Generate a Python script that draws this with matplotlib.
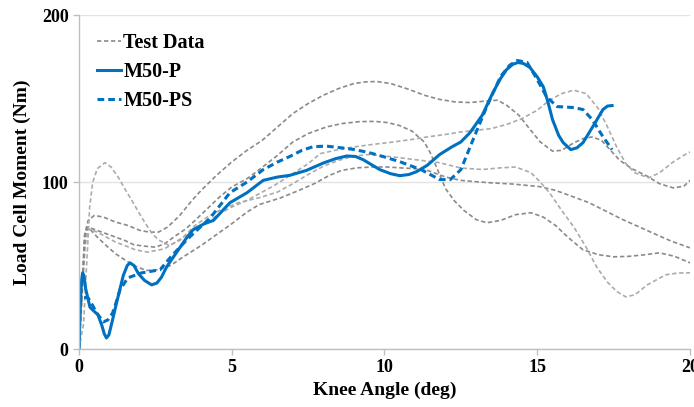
import matplotlib
matplotlib.use("Agg")
import matplotlib.pyplot as plt

# test data curves (knee angle deg, moment Nm)
t1_x = [0, 0.08, 0.18, 0.3, 0.5, 0.8, 1.2, 1.6, 2.0, 2.3, 2.6, 2.9, 3.3, 3.7, 4.0, 4.5, 5.0, 5.5, 6.0, 6.5, 7.0, 7.5, 8.0, 8.5, 9.0,
        9.4, 9.75, 10.2, 10.8, 11.3, 11.8, 12.3, 12.8, 13.3, 13.7, 14.0, 14.4, 14.7, 15.1, 15.5, 15.8, 16.2, 16.5, 16.8,
        17.1, 17.4, 17.7, 18.1, 18.6, 19.0, 19.45, 19.8, 20.0]
t1_y = [0, 30, 68, 77, 80, 79, 76, 74, 71, 70, 70, 73, 80, 89, 95, 104, 112, 119, 125, 133, 141, 147, 152, 156, 159,
        160, 160.2, 159, 155.5, 152, 149.5, 148, 147.6, 148.5, 149, 146, 140, 133, 124, 118.5, 119, 123.5, 126, 127,
        125, 119, 113, 108, 103.5, 99, 96.5, 97.5, 101]

t2_x = [0, 0.1, 0.2, 0.3, 0.6, 0.9, 1.2, 1.5, 1.85, 2.25, 2.8, 3.15, 3.5, 3.8, 4.2, 4.6, 5.0, 5.5, 5.9, 6.4, 7.0, 7.5, 7.9,
        8.5, 9.0, 9.6, 10.3, 10.9, 11.4, 12.0, 12.5, 13.0, 13.5, 14.0, 14.5, 15.0, 15.4, 15.8, 16.2, 16.6, 17.0, 17.3,
        17.6, 17.9, 18.2, 18.65, 19.0, 19.45, 19.8, 20.0]
t2_y = [0, 30, 62, 72, 70, 67, 64, 62, 59.4, 58, 60, 64, 68, 71.4, 76, 81, 85, 89, 93, 98, 105, 111, 117,
        119.5, 121, 122.5, 124, 125.5, 127, 128.5, 130, 131, 132, 134.5, 138, 143, 149, 153, 155, 153, 144, 133,
        121, 111, 105.5, 102.5, 105.5, 112, 116, 118]

t3_x = [0, 0.1, 0.2, 0.3, 0.6, 0.9, 1.2, 1.5, 1.8, 2.2, 2.5, 2.8, 3.1, 3.5, 3.8, 4.2, 4.6, 5.0, 5.5, 5.9, 6.5, 7.0, 7.5,
        8.1, 8.6, 9.2, 9.7, 10.1, 10.5, 10.9, 11.3, 11.5, 11.7, 12.0, 12.3, 12.6, 13.0, 13.35, 13.8, 14.3, 14.8, 15.2,
        15.6, 16.0, 16.5, 17.0, 17.5, 18.0, 18.5, 19.0, 19.5, 20.0]
t3_y = [0, 35, 70, 73, 71, 69, 67, 65, 62.4, 61.5, 61, 63, 67, 72, 77, 84, 91, 97, 102, 107.4, 116, 124, 129,
        133, 135, 136.2, 136.3, 135.6, 133.8, 130.5, 124, 117.5, 109, 96, 88.5, 83, 77.5, 75.6, 77, 80.5, 81.6, 79,
        74, 67, 59.4, 56.5, 55.2, 55.5, 56.4, 57.6, 55.5, 51.6]

ta_x = [0, 0.1, 0.2, 0.3, 0.6, 0.95, 1.2, 1.5, 1.8, 2.2, 2.6, 3.0, 3.4, 4.0, 4.5, 5.0, 5.5, 5.9, 6.6, 7.2, 7.7, 8.2, 8.6,
        9.1, 9.6, 10.1, 10.5, 11.0, 11.4, 12.0, 12.5, 13.0, 13.5, 14.2, 15.1, 15.6, 16.2, 16.7, 17.2, 17.8, 18.4,
        18.9, 19.4, 20.0]
ta_y = [0, 35, 68, 73, 67, 61, 57, 53.4, 50, 47, 47.5, 50, 55, 62, 68.5, 75, 82, 86.5, 90.5, 95, 99, 104, 107,
        108.5, 109, 109, 108.5, 108, 107, 103, 101, 100.2, 99.5, 98.8, 97.2, 95, 91, 87.6, 83, 77.5, 72.6,
        68.5, 64.5, 60.6]

tc_x = [0, 0.15, 0.25, 0.35, 0.45, 0.6, 0.85, 1.05, 1.28, 1.5, 1.73, 1.95, 2.16, 2.4, 2.6, 2.95, 3.3, 3.8, 4.2, 4.6, 5.2,
        5.9, 6.5, 7.0, 7.5, 8.0, 8.5, 9.0, 9.5, 10.3, 11.0, 11.8, 12.5, 13.2, 13.8, 14.3, 14.8, 15.1, 15.4, 15.8,
        16.2, 16.6, 16.95, 17.3, 17.6, 17.9, 18.2, 18.6, 19.2, 19.6, 20.0]
tc_y = [0, 15, 50, 85, 100, 108, 111.6, 109, 103, 96, 89, 82, 75.6, 69, 65.4, 62, 65, 74, 79, 83, 87.5,
        90.6, 94, 99, 104.5, 109.5, 113, 115.5, 116.5, 115, 113.4, 111.6, 108.4, 107.5, 108.5, 109, 105.5, 100, 93.6, 83,
        73, 61, 49, 40, 34.5, 31.2, 32.5, 38.4, 44.4, 45.5, 45.6]

# model curves
p_x = [0, 0.05, 0.09, 0.12, 0.16, 0.22, 0.36, 0.5, 0.62, 0.75, 0.83, 0.9, 0.98, 1.08, 1.23, 1.45, 1.58, 1.67, 1.8, 1.95,
       2.15, 2.38, 2.55, 2.7, 2.87, 3.2, 3.5, 3.73, 4.1, 4.4, 4.94, 5.5, 6.03, 6.5, 6.9, 7.45, 8.0, 8.4, 8.77, 9.05,
       9.3, 9.85, 10.2, 10.5, 10.8, 11.05, 11.4, 11.8, 12.2, 12.5, 12.8, 13.2, 13.55, 13.8, 14.0, 14.2, 14.37, 14.55,
       14.76, 15.0, 15.2, 15.35, 15.5, 15.7, 15.85, 16.1, 16.3, 16.5, 16.9, 17.15, 17.3, 17.45]
p_y = [0, 30, 42, 45.6, 44, 36, 25, 22.5, 20.5, 14, 9, 6.6, 8.5, 16, 27.6, 44, 50, 51.6, 50, 45,
       41, 38.4, 39.5, 43, 49.2, 58, 66, 71.4, 75, 77, 87.6, 93.6, 101, 103, 104, 107, 111.4, 114, 115.6, 115.3,
       113.4, 107.4, 105, 103.8, 104.5, 106.2, 110, 116.4, 121, 124, 129.6, 140, 153.6, 162, 167.4, 170.5, 171.6, 171,
       168.6, 163, 157, 148, 137.4, 128, 123.6, 119.4, 120.5, 123.6, 135.6, 143.4, 145.5, 145.8]

ps_x = [0, 0.03, 0.15, 0.3, 0.45, 0.58, 0.8, 0.95, 1.1, 1.2, 1.34, 1.6, 2.05, 2.65, 2.98, 3.3, 3.63, 4.3, 4.94, 5.5,
        6.03, 6.5, 6.9, 7.3, 7.67, 8.1, 8.54, 9.0, 9.5, 10.0, 10.5, 11.2, 11.6, 11.8, 12.15, 12.5, 12.9, 13.35, 13.8,
        14.1, 14.35, 14.67, 15.0, 15.3, 15.65, 16.2, 16.5, 16.8, 17.15, 17.45]
ps_y = [0, 27.6, 31, 30.6, 26, 21.6, 16.2, 17.5, 21.6, 27, 35.4, 42.6, 45.6, 47.4, 54.6, 61, 67.2, 78.6, 93.6, 100,
        107.4, 112, 115.3, 119, 121.2, 121.5, 120.6, 119.5, 117.6, 115, 112.2, 107.4, 103.5, 101.5, 101.4, 107.4, 125.4,
        145.2, 163.2, 170, 172.8, 171.6, 161.4, 151.2, 145.2, 144.6, 143.4, 137.4, 127.2, 119.4]

x_ticks = [0, 5, 10, 15, 20]
y_ticks = [0, 100, 200]

plt.rcParams['font.family'] = ['Liberation Serif', 'DejaVu Serif']
plt.rcParams['font.weight'] = 'bold'

fig = plt.figure(figsize=(6.94, 4.07), dpi=100)
ax = fig.add_axes([0.1138, 0.1425, 0.8804, 0.8205])

gray_dash = (0, (2.6, 1.6))
dark = '#8a8a8a'
light = '#ababab'
kw = dict(lw=1.2, ls=gray_dash, solid_joinstyle='round', dash_joinstyle='round')
ax.plot(t1_x, t1_y, color=dark, label='Test Data', **kw)
ax.plot(t2_x, t2_y, color=light, **kw)
ax.plot(t3_x, t3_y, color=dark, **kw)
ax.plot(ta_x, ta_y, color=dark, **kw)
ax.plot(tc_x, tc_y, color=light, **kw)

ax.plot(p_x, p_y, color='#0070C0', lw=2.2, solid_joinstyle='round', label='M50-P')
ax.plot(ps_x, ps_y, color='#0070C0', lw=2.2, ls=(0, (2.2, 1.3)), dash_joinstyle='round', label='M50-PS')

ax.set_xlim(0, 20)
ax.set_ylim(0, 200)
ax.set_xticks(x_ticks)
ax.set_yticks(y_ticks)
ax.tick_params(axis='both', labelsize=13, colors='#bfbfbf', labelcolor='black', length=4, width=1)
ax.grid(axis='y', color='#e3e3e3', lw=1)
ax.set_axisbelow(True)
for s in ['top', 'right']:
    ax.spines[s].set_visible(False)
for s in ['left', 'bottom']:
    ax.spines[s].set_color('#bfbfbf')
    ax.spines[s].set_linewidth(1)

ax.set_xlabel('Knee Angle (deg)', fontsize=14, fontweight='bold', labelpad=4)
ax.set_ylabel('Load Cell Moment (Nm)', fontsize=14, fontweight='bold', labelpad=8)

leg = ax.legend(loc='upper left', bbox_to_anchor=(0.0, 1.0), frameon=False, fontsize=14.5,
                handlelength=1.2, handletextpad=0.1, labelspacing=0.45)

fig.savefig('out.png', dpi=100)
